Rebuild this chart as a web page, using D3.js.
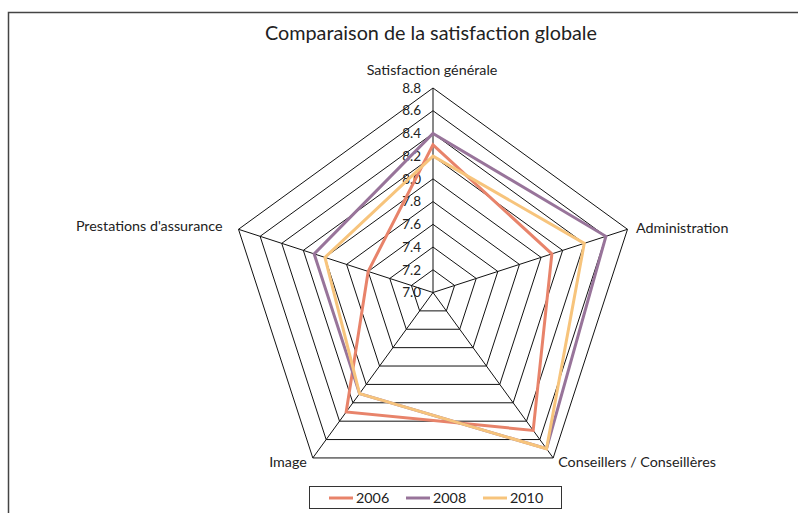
<!DOCTYPE html>
<html>
<head>
<meta charset="utf-8">
<script src="https://cdn.jsdelivr.net/npm/d3@7"></script>
<style>
  body { margin: 0; background: #fff; }
  text { font-family: "Lato", "Noto Sans", sans-serif; fill: #222; }
</style>
</head>
<body>
<script>
// categories and values
var categories = ["Satisfaction générale", "Administration", "Conseillers / Conseillères", "Image", "Prestations d'assurance"];
var years = ["2006", "2008", "2010"];
var values2006 = [8.3, 8.1, 8.5, 8.3, 7.6];
var values2008 = [8.4, 8.6, 8.7, 8.1, 8.1];
var values2010 = [8.2, 8.4, 8.7, 8.1, 8.0];
var tickLabels = [7.0, 7.2, 7.4, 7.6, 7.8, 8.0, 8.2, 8.4, 8.6, 8.8];

var colors = ["#e8836a", "#98749a", "#f7c47c"];

var full_width = 798, full_height = 513;
var cx = 433, cy = 292.5, R = 204.5;

var svg = d3.select("body").append("svg")
  .attr("width", full_width)
  .attr("height", full_height);

// frame
svg.append("rect")
  .attr("x", 8.5).attr("y", 12.5)
  .attr("width", 820).attr("height", 520)
  .attr("fill", "none")
  .attr("stroke", "#444")
  .attr("stroke-width", 1.5);

svg.append("text")
  .attr("x", 431).attr("y", 40)
  .attr("text-anchor", "middle")
  .style("font-size", "19.8px")
  .text("Comparaison de la satisfaction globale");

var r = d3.scaleLinear().domain([7.0, 8.8]).range([0, R]);
var angle = d3.scaleLinear().domain([0, categories.length]).range([0, 2 * Math.PI]);

function pt(i, v) {
  var a = angle(i);
  return [cx + r(v) * Math.sin(a), cy - r(v) * Math.cos(a)];
}

var g = svg.append("g");

// rings
tickLabels.slice(1).forEach(function(t) {
  var pts = categories.map(function(c, i) { return pt(i, t); });
  g.append("polygon")
    .attr("points", pts.map(function(p) { return p.join(","); }).join(" "))
    .attr("fill", "none")
    .attr("stroke", "#111")
    .attr("stroke-width", 1);
});

// spokes
categories.forEach(function(c, i) {
  var p = pt(i, 8.8);
  g.append("line")
    .attr("x1", cx).attr("y1", cy)
    .attr("x2", p[0]).attr("y2", p[1])
    .attr("stroke", "#111")
    .attr("stroke-width", 1);
});

// tick labels along the top spoke
g.selectAll(".tick")
  .data(tickLabels)
  .enter().append("text")
  .attr("x", cx - 12)
  .attr("y", function(d) { return cy - r(d); })
  .attr("dy", "0.35em")
  .attr("text-anchor", "end")
  .style("font-size", "13.5px")
  .text(function(d) { return d3.format(".1f")(d); });

// category labels
var labelPos = [
  {dx: -1, dy: -18, anchor: "middle"},
  {dx: 8.5, dy: -1, anchor: "start"},
  {dx: 5, dy: 4, anchor: "start"},
  {dx: -6, dy: 4, anchor: "end"},
  {dx: -16, dy: -3, anchor: "end"}
];
categories.forEach(function(c, i) {
  var p = pt(i, 8.8);
  g.append("text")
    .attr("x", p[0] + labelPos[i].dx)
    .attr("y", p[1] + labelPos[i].dy)
    .attr("dy", "0.35em")
    .attr("text-anchor", labelPos[i].anchor)
    .style("font-size", "14.3px")
    .text(c);
});

// series
var series = [values2006, values2008, values2010];
var line = d3.line().curve(d3.curveLinearClosed);
series.forEach(function(vals, s) {
  g.append("path")
    .attr("d", line(vals.map(function(v, i) { return pt(i, v); })))
    .attr("fill", "none")
    .attr("stroke", colors[s])
    .attr("stroke-width", 3)
    .attr("stroke-linejoin", "miter");
});

// legend
var legend = svg.append("g");
legend.append("rect")
  .attr("x", 309.5).attr("y", 486.5)
  .attr("width", 252).attr("height", 22)
  .attr("fill", "#fff")
  .attr("stroke", "#333")
  .attr("stroke-width", 1);
var legendX = [329, 406, 483];
years.forEach(function(y, i) {
  legend.append("line")
    .attr("x1", legendX[i]).attr("x2", legendX[i] + 24)
    .attr("y1", 498).attr("y2", 498)
    .attr("stroke", colors[i])
    .attr("stroke-width", 3);
  legend.append("text")
    .attr("x", legendX[i] + 27)
    .attr("y", 498)
    .attr("dy", "0.35em")
    .style("font-size", "14.3px")
    .text(y);
});
</script>
</body>
</html>
